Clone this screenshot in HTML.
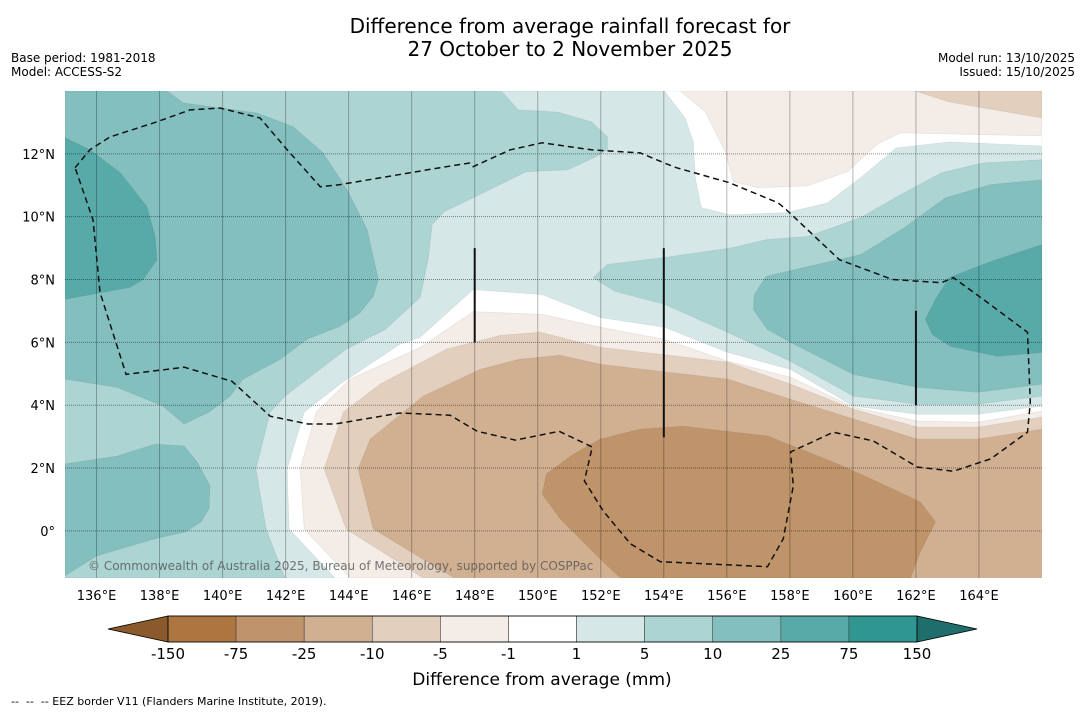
<!DOCTYPE html>
<html><head><meta charset="utf-8"><style>
html,body{margin:0;padding:0;background:#fff;width:1085px;height:713px;overflow:hidden;font-family:"Liberation Sans","DejaVu Sans",sans-serif}
.t{position:absolute;white-space:nowrap;color:#000}
</style></head><body>
<div class="t" style="left:0;width:1140px;top:15px;text-align:center;font-size:20px;line-height:23px;font-family:'DejaVu Sans','Liberation Sans',sans-serif">Difference from average rainfall forecast for<br>27 October to 2 November 2025</div>
<div class="t" style="left:11px;top:51px;font-size:12px;font-family:'DejaVu Sans',sans-serif">Base period: 1981-2018</div>
<div class="t" style="left:11px;top:65px;font-size:12px;font-family:'DejaVu Sans',sans-serif">Model: ACCESS-S2</div>
<div class="t" style="right:10px;top:51px;font-size:12px;text-align:right;font-family:'DejaVu Sans',sans-serif">Model run: 13/10/2025</div>
<div class="t" style="right:10px;top:65px;font-size:12px;text-align:right;font-family:'DejaVu Sans',sans-serif">Issued: 15/10/2025</div>
<div class="t" style="left:11px;top:695px;font-size:11px;font-family:'DejaVu Sans',sans-serif">--&nbsp; --&nbsp; -- EEZ border V11 (Flanders Marine Institute, 2019).</div>
<svg id="svg" width="1085" height="713" style="position:absolute;left:0;top:0" xmlns="http://www.w3.org/2000/svg">
<defs><clipPath id="mapclip"><rect x="65" y="91" width="977" height="487"/></clipPath></defs>
</svg>
<script>
// ---- map extents ----
const lonMin=135, lonMax=166, latMin=-1.5, latMax=14;
const mapX0=65, mapX1=1042, mapY0=91, mapY1=578;
function X(lon){return mapX0+(lon-lonMin)/(lonMax-lonMin)*(mapX1-mapX0);}
function Y(lat){return mapY0+(latMax-lat)/(latMax-latMin)*(mapY1-mapY0);}

// ---- data: contour levels & colors ----
const levelLabels=['-150','-75','-25','-10','-5','-1','1','5','10','25','75','150'];
const levelColors=['#ad7640','#c0946a','#d1b092','#e3cfbd','#f4ece6','#ffffff','#d5e8e7','#acd4d3','#82bfbe','#58aaa9','#2f9692'];
const lowExtColor='#8a5a2c', highExtColor='#206e6b';
const lonTicks=[136,138,140,142,144,146,148,150,152,154,156,158,160,162,164];
const latTicks=[0,2,4,6,8,10,12];
const northClose=[[166,14],[135,14],[135,-1.5]];

// contour curves (south boundaries of band regions), lon/lat
const curveM10=[[147.35,-1.5],[144.78,0.06],[144.3,1.97],[144.68,2.92],[146.37,4.29],[148.17,5.14],[149.41,5.46],[150.71,5.59],[151.98,5.3],[156.02,4.83],[158.02,4.19],[160.02,3.56],[162.05,2.92],[163.95,2.92],[166,3.24]];
const curveM5=[[146.37,-1.5],[143.92,0.06],[143.22,1.97],[143.83,3.78],[145.0,4.67],[147.1,5.78],[148.81,6.22],[150.08,6.32],[151.98,5.84],[156.02,5.37],[158.02,4.67],[160.02,3.87],[162.05,3.3],[163.95,3.3],[166,3.62]];
const curveM1=[[144.05,-1.5],[142.59,0.06],[142.46,1.97],[142.97,3.78],[144.05,4.83],[146.27,5.84],[147.95,6.98],[150.14,6.89],[151.98,6.48],[154.02,6.1],[156.02,5.4],[158.02,4.89],[160.02,3.94],[162.05,3.49],[163.95,3.46],[166,3.81]];
const curveP1=[[143.57,-1.5],[142.11,0.06],[142.05,1.97],[142.59,3.78],[143.73,4.67],[145.63,5.94],[146.27,6.16],[147.95,7.68],[150.14,7.52],[151.98,6.79],[154.02,6.48],[156.02,5.68],[158.02,5.14],[160.02,3.97],[162.05,3.71],[163.95,3.71],[166,3.97]];

// closed regions
const whiteNE=[[154.02,14],[154.68,13.14],[154.94,12.38],[155.0,11.24],[155.19,10.29],[156.08,10.06],[157.89,10.13],[159.19,10.44],[160.24,11.24],[161.38,12.19],[163.06,12.38],[166,12.25],[166,14]];
const lightBrownNE=[[154.52,14],[155.32,13.33],[155.95,12.06],[156.21,11.11],[157.0,10.92],[158.56,10.98],[159.83,11.43],[160.75,12.29],[161.51,12.67],[166,12.57],[166,14]];
const tanNE=[[161.98,14],[163.06,13.65],[166,13.14],[166,14]];
const blue5West=[[135,14],[148.84,14],[149.38,13.4],[150.65,13.33],[151.7,13.02],[152.21,12.54],[152.21,12.13],[151.83,11.9],[150.94,11.49],[149.63,11.43],[147.95,10.6],[147.03,10.16],[146.65,9.75],[146.52,8.63],[146.27,7.43],[145.16,6.41],[143.92,5.78],[141.98,4.29],[141.51,3.78],[141.06,1.97],[141.38,0.06],[141.98,-1.5],[135,-1.5]];
const blue5East=[[151.76,8.06],[152.21,8.48],[154.02,8.7],[156.21,9.02],[157.25,9.27],[158.56,9.37],[160.24,9.97],[161.51,10.7],[162.81,11.4],[164.11,11.71],[166,11.81],[166,4.29],[163.95,4.03],[162.05,4.03],[160.02,4.29],[158.02,5.4],[156.02,6.32],[154.02,7.21],[152.46,7.62]];
const blue10NW=[[135,14],[138.24,14],[138.75,13.62],[139.7,13.49],[141.1,13.3],[142.24,12.86],[143.19,12.03],[143.95,10.86],[144.59,9.59],[144.94,8.0],[144.78,7.46],[144.37,6.95],[143.73,6.51],[142.68,6.1],[141.83,5.46],[140.65,4.83],[140.24,4.29],[139.57,3.78],[138.78,3.4],[138.11,3.97],[136.65,4.57],[135,4.83]];
const blue10SW=[[135,2.13],[136.65,2.38],[137.86,2.76],[138.78,2.7],[139.19,2.19],[139.6,1.43],[139.57,0.7],[139.32,0.29],[138.84,-0.03],[137.86,-0.25],[136.02,-0.79],[135,-1.43]];
const blue10E=[[156.87,7.52],[157.25,8.1],[158.56,8.41],[160.24,8.79],[161.63,9.65],[162.94,10.6],[164.37,11.02],[166,11.17],[166,4.67],[163.95,4.41],[162.05,4.57],[160.02,4.98],[158.02,6.0],[157.29,6.41],[156.84,7.05]];
const blue25W=[[135,12.51],[135.79,12.13],[136.75,11.4],[137.6,10.32],[137.86,9.37],[137.92,8.63],[137.48,8.0],[137.06,7.75],[135,7.37]];
const blue25E=[[166,9.11],[164.37,8.57],[163.06,8.06],[162.62,7.37],[162.3,6.73],[162.52,6.25],[163.1,5.87],[164.59,5.56],[166,5.68]];
const brown25=[[150.27,1.81],[151.13,2.44],[151.98,2.92],[153.25,3.24],[154.62,3.33],[157.29,3.02],[159.38,2.19],[160.78,1.56],[162.14,0.92],[162.62,0.29],[162.14,-0.67],[161.83,-1.5],[152.62,-1.5],[151.98,-0.89],[150.71,0.38],[150.14,1.17]];

const eezPath=[[135.32,11.56],[135.79,12.13],[136.43,12.54],[137.92,13.02],[138.97,13.4],[139.92,13.46],[141.19,13.14],[142.05,12.13],[143.1,10.95],[143.73,11.02],[146.9,11.56],[147.83,11.71],[147.95,11.59],[149.13,12.13],[150.14,12.35],[151.7,12.13],[153.25,12.03],[154.02,11.71],[154.4,11.56],[156.08,11.08],[157.63,10.44],[157.89,10.22],[159.57,8.63],[161.25,8.0],[162.81,7.9],[163.19,8.06],[164.27,7.27],[165.54,6.32],[165.63,4.1],[165.54,3.14],[164.37,2.29],[163.19,1.9],[162.05,2.03],[160.65,2.86],[159.38,3.14],[158.02,2.51],[158.11,1.43],[157.79,-0.25],[157.29,-1.14],[153.89,-0.98],[152.94,-0.41],[152.08,0.63],[151.48,1.59],[151.73,2.67],[150.68,3.17],[149.29,2.89],[148.08,3.17],[147.22,3.68],[145.63,3.75],[143.57,3.4],[142.71,3.4],[141.51,3.65],[140.3,4.76],[138.78,5.21],[136.94,4.98],[136.11,7.59],[135.89,9.9],[135.32,11.56]];
const boundaryLines=[[[148,9],[148,6]],[[154,9],[154,2.98]],[[162,7],[162,4]]];

const svg=document.getElementById('svg');
const NS='http://www.w3.org/2000/svg';
function mk(tag){return document.createElementNS(NS,tag);}
function pts(arr){return arr.map(p=>X(p[0]).toFixed(1)+','+Y(p[1]).toFixed(1)).join(' ');}

const mapG=mk('g');
mapG.setAttribute('clip-path','url(#mapclip)');


svg.appendChild(mapG);

const base=mk('rect');
base.setAttribute('x',mapX0);base.setAttribute('y',mapY0);base.setAttribute('width',mapX1-mapX0);base.setAttribute('height',mapY1-mapY0);
base.setAttribute('fill',levelColors[2]);


mapG.appendChild(base);

const layers=[
 ['contour-minus10',curveM10.concat(northClose),levelColors[3]],
 ['contour-minus5',curveM5.concat(northClose),levelColors[4]],
 ['contour-minus1',curveM1.concat(northClose),levelColors[5]],
 ['contour-plus1',curveP1.concat(northClose),levelColors[6]],
 ['contour-white-ne',whiteNE,levelColors[5]],
 ['contour-lightbrown-ne',lightBrownNE,levelColors[4]],
 ['contour-tan-ne',tanNE,levelColors[3]],
 ['contour-plus5-west',blue5West,levelColors[7]],
 ['contour-plus5-east',blue5East,levelColors[7]],
 ['contour-plus10-northwest',blue10NW,levelColors[8]],
 ['contour-plus10-southwest',blue10SW,levelColors[8]],
 ['contour-plus10-east',blue10E,levelColors[8]],
 ['contour-plus25-west',blue25W,levelColors[9]],
 ['contour-plus25-east',blue25E,levelColors[9]],
 ['contour-minus25-center',brown25,levelColors[1]]
];
layers.forEach(l=>{
  const p=mk('polygon');
  p.setAttribute('points',pts(l[1]));
  p.setAttribute('fill',l[2]);
  p.setAttribute('stroke','rgba(0,0,0,0.07)');
  p.setAttribute('stroke-width','0.8');
  
  
  mapG.appendChild(p);
});

// gridlines
lonTicks.forEach(lon=>{
  const ln=mk('line');
  ln.setAttribute('x1',X(lon));ln.setAttribute('x2',X(lon));ln.setAttribute('y1',mapY0);ln.setAttribute('y2',mapY1);
  ln.setAttribute('stroke','rgba(0,0,0,0.28)');ln.setAttribute('stroke-width','1');
  
  
  mapG.appendChild(ln);
});
latTicks.forEach(lat=>{
  const ln=mk('line');
  ln.setAttribute('x1',mapX0);ln.setAttribute('x2',mapX1);ln.setAttribute('y1',Y(lat));ln.setAttribute('y2',Y(lat));
  ln.setAttribute('stroke','rgba(0,0,0,0.45)');ln.setAttribute('stroke-width','1');ln.setAttribute('stroke-dasharray','1,1');
  
  
  mapG.appendChild(ln);
});

// EEZ dashed border
const eez=mk('polyline');
eez.setAttribute('points',pts(eezPath));
eez.setAttribute('fill','none');eez.setAttribute('stroke','#111');eez.setAttribute('stroke-width','1.5');eez.setAttribute('stroke-dasharray','6,4');


mapG.appendChild(eez);
boundaryLines.forEach(b=>{
  const ln=mk('line');
  ln.setAttribute('x1',X(b[0][0]));ln.setAttribute('y1',Y(b[0][1]));ln.setAttribute('x2',X(b[1][0]));ln.setAttribute('y2',Y(b[1][1]));
  ln.setAttribute('stroke','#111');ln.setAttribute('stroke-width','2');
  
  
  mapG.appendChild(ln);
});

// copyright
const cp=mk('text');
cp.setAttribute('x',88);cp.setAttribute('y',570);cp.setAttribute('font-size','12');cp.setAttribute('fill','#555');cp.setAttribute('fill-opacity','0.8');
cp.setAttribute('font-family','DejaVu Sans, Liberation Sans, sans-serif');
cp.textContent='© Commonwealth of Australia 2025, Bureau of Meteorology, supported by COSPPac';


mapG.appendChild(cp);

// tick labels
lonTicks.forEach(lon=>{
  const t=mk('text');
  t.setAttribute('x',X(lon));t.setAttribute('y',600);t.setAttribute('text-anchor','middle');t.setAttribute('font-size','13');
  t.setAttribute('font-family','DejaVu Sans, Liberation Sans, sans-serif');
  t.textContent=lon+'°E';
  
  
  svg.appendChild(t);
});
latTicks.forEach(lat=>{
  const t=mk('text');
  t.setAttribute('x',55);t.setAttribute('y',Y(lat)+5);t.setAttribute('text-anchor','end');t.setAttribute('font-size','13');
  t.setAttribute('font-family','DejaVu Sans, Liberation Sans, sans-serif');
  t.textContent=lat===0?'0°':lat+'°N';
  
  
  svg.appendChild(t);
});

// colorbar
const cbX0=168, cbX1=917, cbY=616, cbH=26, triW=60;
const segW=(cbX1-cbX0)/levelColors.length;
const lt=mk('polygon');
lt.setAttribute('points',(cbX0-triW)+','+(cbY+cbH/2)+' '+cbX0+','+cbY+' '+cbX0+','+(cbY+cbH));
lt.setAttribute('fill',lowExtColor);lt.setAttribute('stroke','#000');lt.setAttribute('stroke-width','0.8');


svg.appendChild(lt);
const rt=mk('polygon');
rt.setAttribute('points',(cbX1+triW)+','+(cbY+cbH/2)+' '+cbX1+','+cbY+' '+cbX1+','+(cbY+cbH));
rt.setAttribute('fill',highExtColor);rt.setAttribute('stroke','#000');rt.setAttribute('stroke-width','0.8');


svg.appendChild(rt);
levelColors.forEach((c,i)=>{
  const r=mk('rect');
  r.setAttribute('x',cbX0+i*segW);r.setAttribute('y',cbY);r.setAttribute('width',segW);r.setAttribute('height',cbH);
  r.setAttribute('fill',c);r.setAttribute('stroke','#444');r.setAttribute('stroke-width','0.6');
  
  
  svg.appendChild(r);
});
const ob=mk('rect');
ob.setAttribute('x',cbX0);ob.setAttribute('y',cbY);ob.setAttribute('width',cbX1-cbX0);ob.setAttribute('height',cbH);
ob.setAttribute('fill','none');ob.setAttribute('stroke','#000');ob.setAttribute('stroke-width','0.8');


svg.appendChild(ob);
levelLabels.forEach((lab,i)=>{
  const t=mk('text');
  t.setAttribute('x',cbX0+i*segW);t.setAttribute('y',659);t.setAttribute('text-anchor','middle');t.setAttribute('font-size','15');
  t.setAttribute('font-family','DejaVu Sans, Liberation Sans, sans-serif');
  t.textContent=lab;
  
  
  svg.appendChild(t);
});
const ct=mk('text');
ct.setAttribute('x',542);ct.setAttribute('y',685);ct.setAttribute('text-anchor','middle');ct.setAttribute('font-size','17');
ct.setAttribute('font-family','DejaVu Sans, Liberation Sans, sans-serif');
ct.textContent='Difference from average (mm)';


svg.appendChild(ct);
</script>
</body></html>
